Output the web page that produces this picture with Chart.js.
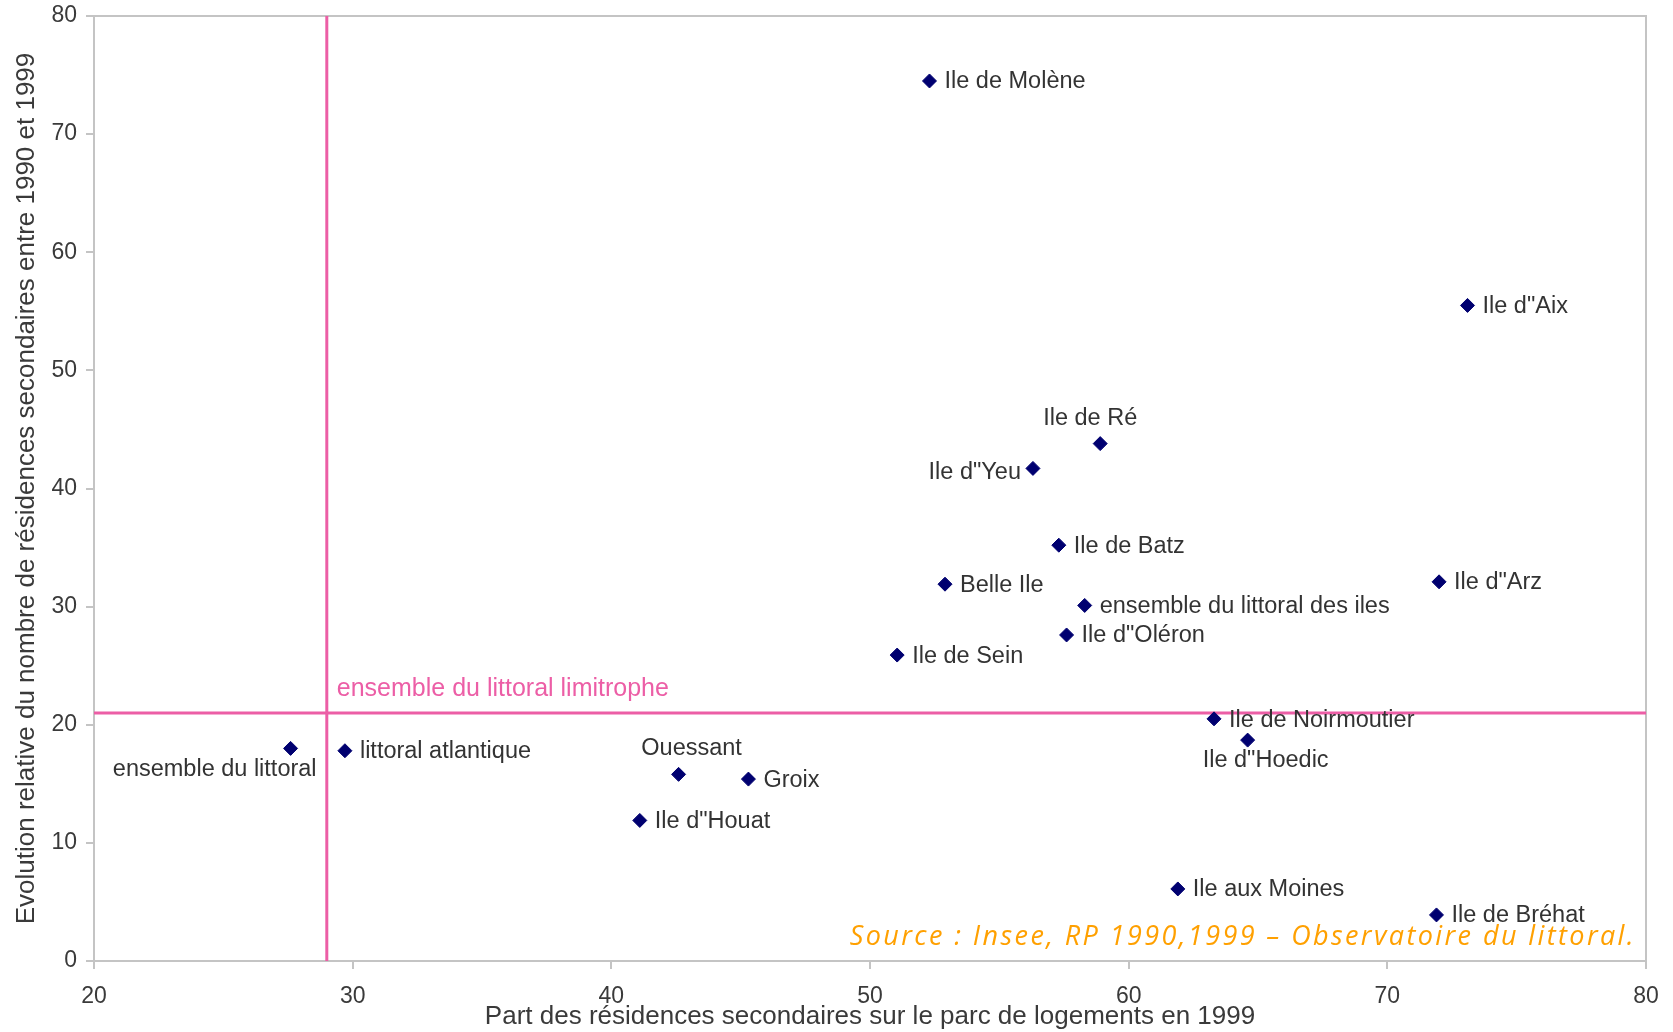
<!DOCTYPE html>
<html><head><meta charset="utf-8">
<script src="https://cdn.jsdelivr.net/npm/chart.js@4.4.0/dist/chart.umd.min.js"></script>
<style>html,body{margin:0;padding:0;background:#fff;} canvas{display:block;}</style>
</head><body>
<canvas id="c" width="1673" height="1032"></canvas>
<script>
// ---- data ----
const names = ['Ile de Molène','Ile d"Aix','Ile de Ré','Ile d"Yeu','Ile de Batz','Belle Ile',
  'ensemble du littoral des iles','Ile d"Oléron','Ile de Sein','Ile d"Arz','Ile de Noirmoutier',
  'Ile d"Hoedic','ensemble du littoral','littoral atlantique','Ouessant','Groix','Ile d"Houat',
  'Ile aux Moines','Ile de Bréhat'];
const shareSecondary = [52.3,73.1,58.9,56.3,57.3,52.9,58.3,57.6,51.05,72.0,63.3,64.6,27.6,29.7,42.6,45.3,41.1,61.9,71.9];
const evolution      = [74.5,55.5,43.8,41.7,35.2,31.9,30.1,27.6,25.9,32.1,20.5,18.7,18.0,17.8,15.8,15.4,11.9,6.1,3.9];
const refShare = 29.0;      // ensemble du littoral limitrophe (x)
const refEvolution = 21.0;  // ensemble du littoral limitrophe (y)
const refLabel = 'ensemble du littoral limitrophe';
const xTickValues = [20,30,40,50,60,70,80];
const yTickValues = [0,10,20,30,40,50,60,70,80];
const xTitle = 'Part des résidences secondaires sur le parc de logements en 1999';
const yTitle = 'Evolution relative du nombre de résidences secondaires entre 1990 et 1999';
const sourceText = 'Source : Insee, RP 1990,1999 – Observatoire du littoral.';

// ---- label placement (style only) ----
const R = {dx:15, dy:1, align:'left'};
const placement = [R,R,{dx:-10,dy:-25,align:'center'},{dx:-12,dy:4,align:'right'},R,R,R,R,R,R,
  {dx:15,dy:2,align:'left'},{dx:18,dy:20,align:'center'},{dx:26,dy:21,align:'right'},R,
  {dx:13,dy:-26,align:'center'},R,R,R,R];

const pink = '#ec5ea6';
const frameColor = '#c4c4c4';
const FONT = '"Liberation Sans", Arial, sans-serif';

const points = names.map((n,i)=>({x:shareSecondary[i], y:evolution[i]}));

const labelsPlugin = {
  id:'labels',
  beforeDatasetsDraw(chart){
    const {ctx, chartArea:a} = chart;
    ctx.save();
    ctx.strokeStyle = frameColor; ctx.lineWidth = 2;
    ctx.strokeRect(a.left, a.top, a.right-a.left, a.bottom-a.top);
    ctx.restore();
  },
  afterDatasetsDraw(chart){
    const {ctx} = chart;
    const meta = chart.getDatasetMeta(2);
    ctx.save();
    ctx.font = '23.5px ' + FONT;
    ctx.fillStyle = '#333333';
    ctx.textBaseline = 'middle';
    meta.data.forEach((el,i)=>{
      const p = placement[i];
      ctx.textAlign = p.align;
      ctx.fillText(names[i], el.x + p.dx, el.y + p.dy);
    });
    // reference label
    const xs = chart.scales.x, ys = chart.scales.y;
    ctx.fillStyle = pink;
    ctx.font = '25px ' + FONT;
    ctx.textAlign = 'left';
    ctx.fillText(refLabel, xs.getPixelForValue(refShare) + 10, ys.getPixelForValue(refEvolution) - 24);
    // source
    ctx.fillStyle = '#ffa000';
    ctx.font = 'italic 27px "Open Sans", "DejaVu Sans", sans-serif';
    try { ctx.letterSpacing = '2.4px'; } catch(e) {}
    ctx.textAlign = 'right';
    ctx.fillText(sourceText, chart.chartArea.right - 10, 937);
    ctx.restore();
  }
};

new Chart(document.getElementById('c'), {
  type:'scatter',
  data:{datasets:[
    {data:[{x:refShare,y:0},{x:refShare,y:80}], showLine:true, borderColor:pink, borderWidth:3, pointRadius:0, order:2},
    {data:[{x:20,y:refEvolution},{x:80,y:refEvolution}], showLine:true, borderColor:pink, borderWidth:3, pointRadius:0, order:2},
    {data:points, pointStyle:'rectRot', pointRadius:7, backgroundColor:'#000070', borderColor:'#000070', borderWidth:1, order:0}
  ]},
  options:{
    responsive:false, animation:false,
    layout:{padding:{left:0, top:16, right:27, bottom:0}},
    plugins:{legend:{display:false}, tooltip:{enabled:false}},
    scales:{
      x:{type:'linear', min:20, max:80,
        afterBuildTicks:(s)=>{ s.ticks = xTickValues.map(v=>({value:v})); },
        afterFit:(s)=>{ s.height = 71; s.paddingLeft = 0; s.paddingRight = 0; },
        grid:{drawOnChartArea:false, drawTicks:true, tickLength:8, color:frameColor, lineWidth:2},
        border:{display:true, color:frameColor, width:2},
        ticks:{padding:14, color:'#3a3a3a', font:{family:FONT, size:23}, maxRotation:0},
        title:{display:true, text:xTitle, color:'#3a3a3a', font:{family:FONT, size:26}, padding:{top:0,bottom:0}}
      },
      y:{type:'linear', min:0, max:80,
        afterBuildTicks:(s)=>{ s.ticks = yTickValues.map(v=>({value:v})); },
        afterFit:(s)=>{ s.width = 94; s.paddingTop = 0; s.paddingBottom = 0; },
        grid:{drawOnChartArea:false, drawTicks:true, tickLength:8, color:frameColor, lineWidth:2},
        border:{display:true, color:frameColor, width:2},
        ticks:{padding:9, color:'#3a3a3a', font:{family:FONT, size:23}},
        title:{display:true, text:yTitle, color:'#3a3a3a', font:{family:FONT, size:26}, padding:{top:11,bottom:0}}
      }
    }
  },
  plugins:[labelsPlugin]
});
</script>
</body></html>
